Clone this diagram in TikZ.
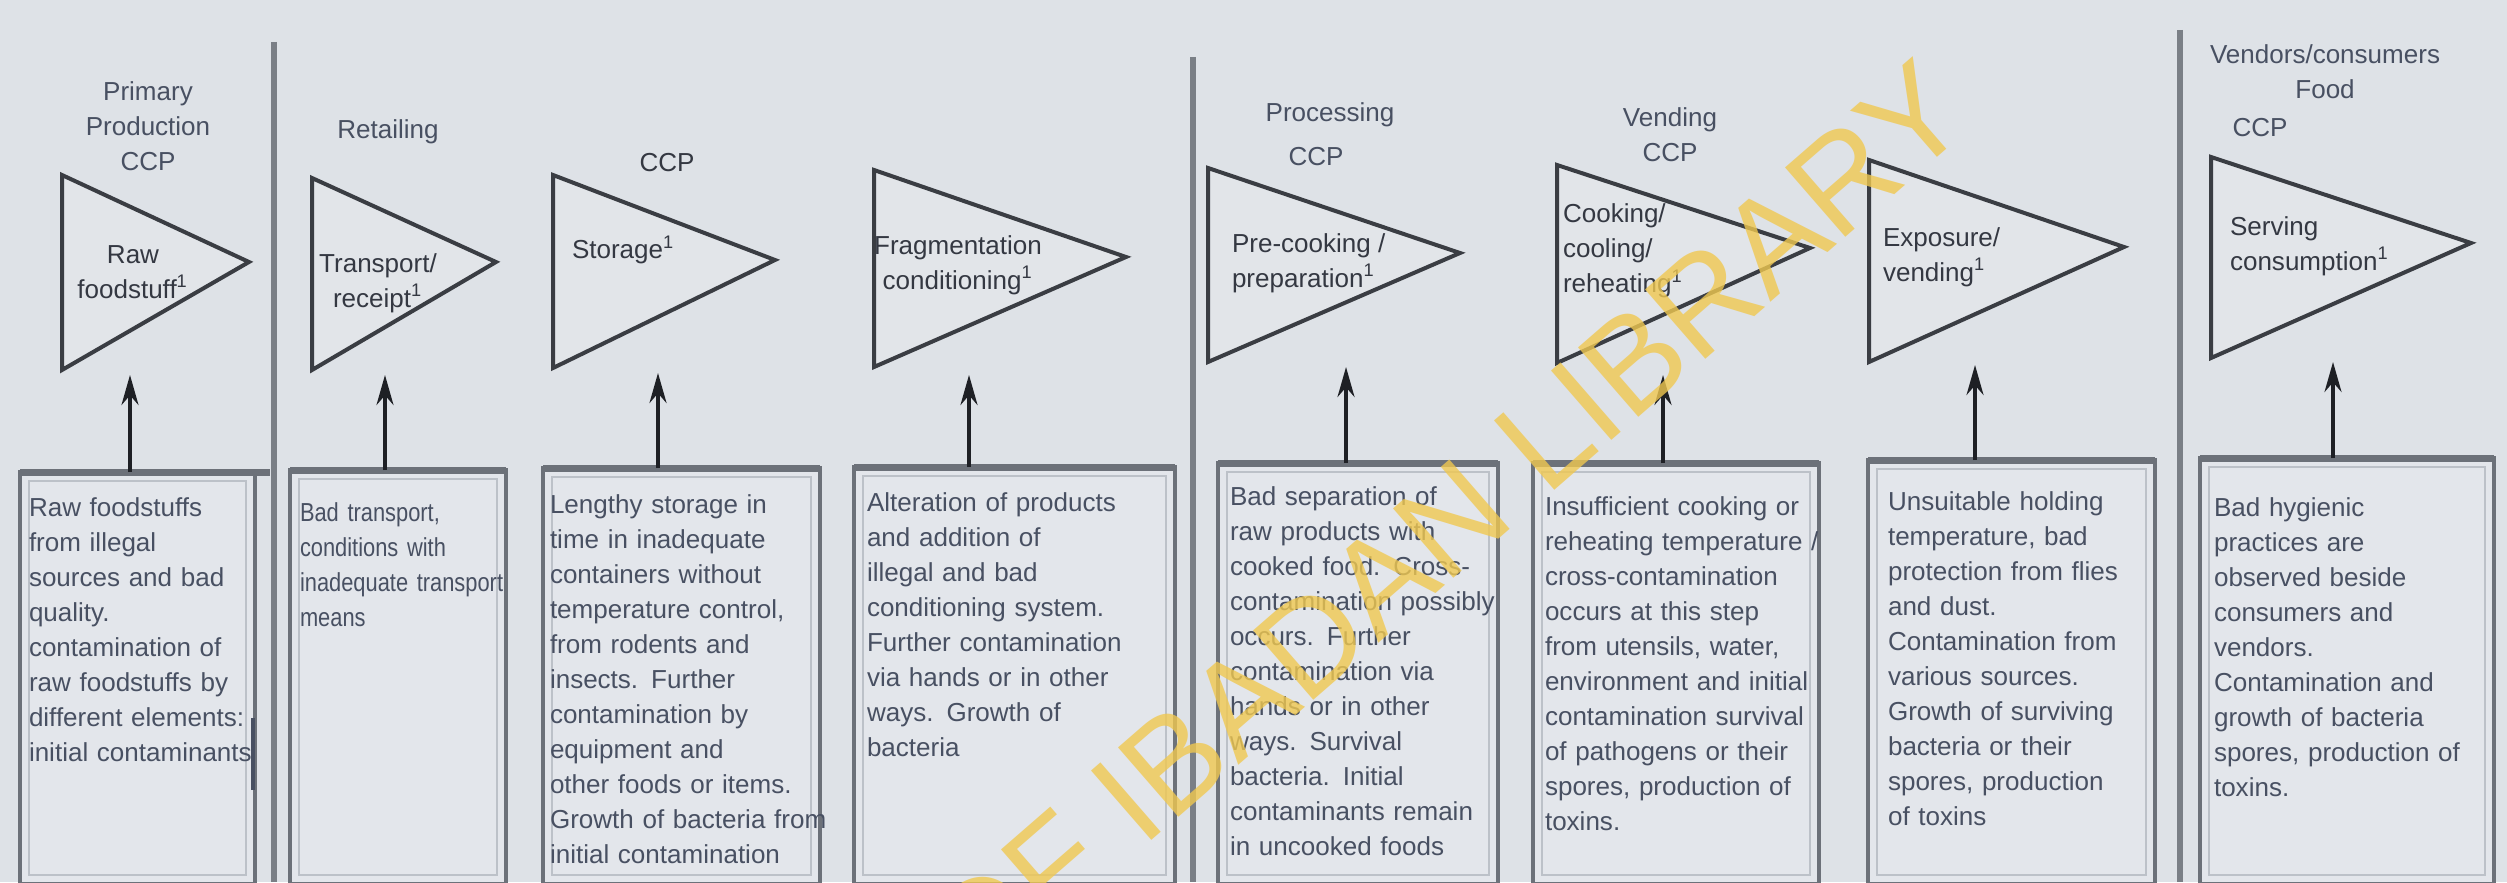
\documentclass[tikz,border=0pt]{standalone}
\usepackage{fontspec}
\setmainfont{Liberation Sans}
\newfontfamily\condensedfont{Liberation Sans}[FakeStretch=0.84]
\usetikzlibrary{arrows.meta}
\definecolor{bg}{RGB}{222,226,231}
\definecolor{boxfill}{RGB}{227,230,235}
\definecolor{boxedge}{RGB}{108,113,121}
\definecolor{inneredge}{RGB}{188,193,200}
\definecolor{triedge}{RGB}{58,61,67}
\definecolor{trifill}{RGB}{226,229,233}
\definecolor{sepline}{RGB}{122,127,134}
\definecolor{arrowcol}{RGB}{30,32,37}
\definecolor{slate}{RGB}{72,80,98}
\definecolor{ink}{RGB}{52,56,66}
\definecolor{stamp}{RGB}{240,200,80}

\begin{document}
\begin{tikzpicture}[x=0.01cm,y=-0.01cm,
  every node/.style={inner sep=0pt,outer sep=0pt},
  txt/.style={font=\fontsize{7.4}{9.96}\selectfont},
  boxtext/.style={txt,text=slate,anchor=base west,text width=3cm,align=left},
  head/.style={txt,text=slate,align=center},
  tritext/.style={txt,text=ink},
  stepshape/.style={draw=triedge,fill=trifill,line width=0.04cm,line join=miter},
  hazard/.style={draw=boxedge,fill=boxfill,line width=0.04cm,anchor=north west},
  topbar/.style={draw=boxedge,line width=0.07cm},
  innerframe/.style={draw=inneredge,line width=0.02cm},
  separator/.style={draw=sepline,line width=0.055cm},
  feed/.style={draw=arrowcol,line width=0.035cm,-{Stealth[length=0.3cm,width=0.17cm]}},
]
% canvas
\fill[bg] (0,0) rectangle (2507,882);
\useasboundingbox (0,0) rectangle (2507,882);
\clip (0,0) rectangle (2507,882);

% stage separators
\draw[separator] (274,42) -- (274,882);
\draw[separator] (1193,57) -- (1193,882);
\draw[separator] (2180,30) -- (2180,882);

% hazard boxes
\node[hazard,minimum width=2.35cm,minimum height=4.12cm] (b1) at (20,472) {};
\node[hazard,minimum width=2.16cm,minimum height=4.14cm] (b2) at (290,470) {};
\node[hazard,minimum width=2.77cm,minimum height=4.16cm] (b3) at (543,468) {};
\node[hazard,minimum width=3.21cm,minimum height=4.17cm] (b4) at (854,467) {};
\node[hazard,minimum width=2.80cm,minimum height=4.21cm] (b5) at (1218,463) {};
\node[hazard,minimum width=2.86cm,minimum height=4.21cm] (b6) at (1533,463) {};
\node[hazard,minimum width=2.87cm,minimum height=4.24cm] (b7) at (1868,460) {};
\node[hazard,minimum width=2.94cm,minimum height=4.26cm] (b8) at (2200,458) {};
\foreach \b in {b1,b2,b3,b4,b5,b6,b7,b8}{
  \draw[innerframe] ([shift={(9,9)}]\b.north west) rectangle ([shift={(-9,-9)}]\b.south east);
  \draw[topbar] (\b.north west) -- (\b.north east);
}
\draw[topbar] (b1.north east) -- (270,472);
\draw[draw=slate,line width=0.035cm] (253,718) -- (253,790);

% process steps
\draw[stepshape] (62,175) -- (249,262) -- (62,370) -- cycle;
\draw[stepshape] (312,178) -- (496,262) -- (312,370) -- cycle;
\draw[stepshape] (553,175) -- (775,260) -- (553,368) -- cycle;
\draw[stepshape] (874,170) -- (1126,257) -- (874,367) -- cycle;
\draw[stepshape] (1208,168) -- (1460,253) -- (1208,362) -- cycle;
\draw[stepshape] (1557,165) -- (1810,248) -- (1557,363) -- cycle;
\draw[stepshape] (1869,160) -- (2124,247) -- (1869,362) -- cycle;
\draw[stepshape] (2211,157) -- (2471,243) -- (2211,358) -- cycle;

\node[tritext,align=center] (s1) at (133,272) {Raw\\foodstuff\textsuperscript{1}};
\node[tritext,align=center] (s2) at (378,283) {Transport/\\receipt\textsuperscript{1}};
\node[tritext,anchor=west] (s3) at (572,250) {Storage\textsuperscript{1}};
\node[tritext,align=center] (s4) at (958,265) {Fragmentation\\conditioning\textsuperscript{1}};
\node[tritext,align=left,anchor=west] (s5) at (1232,263) {Pre-cooking /\\preparation\textsuperscript{1}};
\node[tritext,align=left,anchor=west] (s6) at (1563,251) {Cooking/\\cooling/\\reheating\textsuperscript{1}};
\node[tritext,align=left,anchor=west] (s7) at (1883,257) {Exposure/\\vending\textsuperscript{1}};
\node[tritext,align=left,anchor=west] (s8) at (2230,246) {Serving\\consumption\textsuperscript{1}};

% stage headings
\node[head] (h1) at (148,126) {Primary\\Production\\CCP};
\node[head] (h2) at (388,132) {Retailing};
\node[head,text=ink] (h3) at (667,163) {CCP};
\node[head] (h5) at (1330,115) {Processing};
\node[head] (h5b) at (1316,157) {CCP};
\node[head] (h6) at (1670,135) {Vending\\CCP};
\node[head] (h8) at (2325,72) {Vendors/consumers\\Food};
\node[head] (h9) at (2260,128) {CCP};

% arrow tips below the steps
\coordinate (t1) at (130,375);
\coordinate (t2) at (385,375);
\coordinate (t3) at (658,373);
\coordinate (t4) at (969,375);
\coordinate (t5) at (1346,367);
\coordinate (t6) at (1663,375);
\coordinate (t7) at (1975,365);
\coordinate (t8) at (2333,362);
\foreach \i in {1,...,8}{
  \draw[feed] (t\i |- b\i.north) -- (t\i);
}

% hazard descriptions
\node[boxtext] (d1) at (29,516) {Raw foodstuffs\\from illegal\\sources and bad\\quality.\\contamination of\\raw foodstuffs by\\different elements:\\initial contaminants};
\node[boxtext,font=\condensedfont\fontsize{7.4}{9.96}\selectfont] (d2) at (300,521) {Bad transport,\\conditions with\\inadequate transport\\means};
\node[boxtext] (d3) at (550,513) {Lengthy storage in\\time in inadequate\\containers without\\temperature control,\\from rodents and\\insects. Further\\contamination by\\equipment and\\other foods or items.\\Growth of bacteria from\\initial contamination};
\node[boxtext] (d4) at (867,511) {Alteration of products\\and addition of\\illegal and bad\\conditioning system.\\Further contamination\\via hands or in other\\ways. Growth of\\bacteria};
\node[boxtext] (d5) at (1230,505) {Bad separation of\\raw products with\\cooked food. Cross-\\contamination possibly\\occurs. Further\\contamination via\\hands or in other\\ways. Survival\\bacteria. Initial\\contaminants remain\\in uncooked foods};
\node[boxtext] (d6) at (1545,515) {Insufficient cooking or\\reheating temperature /\\cross-contamination\\occurs at this step\\from utensils, water,\\environment and initial\\contamination survival\\of pathogens or their\\spores, production of\\toxins.};
\node[boxtext] (d7) at (1888,510) {Unsuitable holding\\temperature, bad\\protection from flies\\and dust.\\Contamination from\\various sources.\\Growth of surviving\\bacteria or their\\spores, production\\of toxins};
\node[boxtext] (d8) at (2214,516) {Bad hygienic\\practices are\\observed beside\\consumers and\\vendors.\\Contamination and\\growth of bacteria\\spores, production of\\toxins.};

% library stamp
\node[rotate=41,anchor=base east,text=stamp,opacity=0.8,font=\fontsize{38}{40}\selectfont] (stampnote) at (1976,124) {UNIVERSITY OF IBADAN LIBRARY};
\end{tikzpicture}
\end{document}
